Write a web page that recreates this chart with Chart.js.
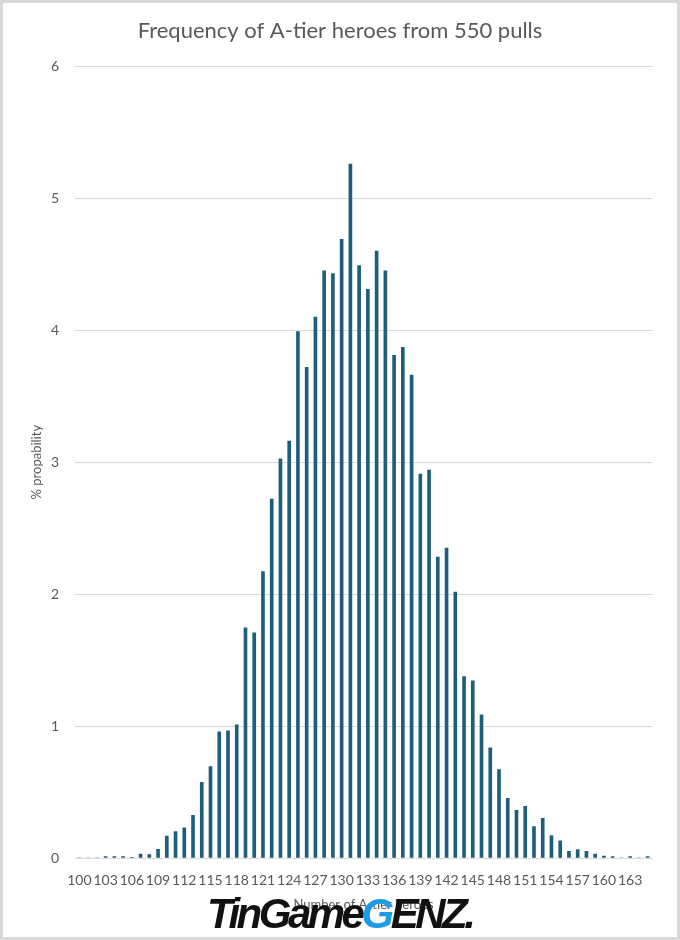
<!DOCTYPE html>
<html>
<head>
<meta charset="utf-8">
<script src="https://cdn.jsdelivr.net/npm/chart.js@4.4.1/dist/chart.umd.min.js"></script>
<style>
  html, body { margin: 0; padding: 0; background: #fff; }
  #wrap { position: relative; width: 680px; height: 940px; box-sizing: border-box; border: 3px solid #d9d9d9; }
  #wrap canvas { position: absolute; left: -3px; top: -3px; }
  #mark { position: absolute; left: 204px; top: 890px; font-family: "Liberation Sans", sans-serif; font-weight: bold; font-style: italic;
          font-size: 42px; letter-spacing: -3.5px; color: #111; line-height: 1; }
  #mark span { color: #1c9be6; }
</style>
</head>
<body>
<div id="wrap">
  <canvas id="chart" width="680" height="940"></canvas>
  <div id="mark">TinGame<span>G</span>ENZ.</div>
</div>
<script>
// number of A-tier heroes (100 .. 165)
const heroCounts = [];
for (let n = 100; n <= 165; n++) heroCounts.push(String(n));

// % probability for each count
const probability = [
    0, 0, 0, 0.01, 0.01, 0.01, 0.005, 0.03, 0.025, 0.066,      // 100-109
    0.167, 0.2, 0.228, 0.324, 0.574, 0.693, 0.956, 0.964, 1.009, 1.745, // 110-119
    1.707, 2.17, 2.72, 3.025, 3.16, 3.99, 3.72, 4.10, 4.45, 4.43,      // 120-129
    4.69, 5.26, 4.49, 4.31, 4.60, 4.45, 3.81, 3.87, 3.66, 2.91,        // 130-139
    2.94, 2.28, 2.35, 2.016, 1.376, 1.343, 1.085, 0.835, 0.67, 0.453,  // 140-149
    0.362, 0.392, 0.238, 0.30, 0.17, 0.13, 0.05, 0.063, 0.05, 0.03,    // 150-159
    0.015, 0.01, 0, 0.01, 0, 0.01                                      // 160-165
];

const yTicks = [0, 1, 2, 3, 4, 5, 6];

const grey = '#595959';

new Chart(document.getElementById('chart'), {
    type: 'bar',
    data: {
        labels: heroCounts,
        datasets: [{
            label: '% propability',
            data: probability,
            backgroundColor: '#1f5e7a',
            barThickness: 3,
        }]
    },
    options: {
        responsive: false,
        animation: false,
        layout: {
            padding: { left: 28, right: 28, top: 0, bottom: 22 }
        },
        scales: {
            x: {
                grid: { display: false },
                border: { color: '#d9d9d9', width: 1 },
                ticks: {
                    autoSkip: false,
                    maxRotation: 0,
                    minRotation: 0,
                    color: grey,
                    padding: 6,
                    font: { family: 'Lato', size: 14 },
                    callback: function(value, index) {
                        return index % 3 == 0 ? this.getLabelForValue(value) : '';
                    }
                },
                title: {
                    display: true,
                    text: 'Number of A-tier heroes',
                    color: grey,
                    font: { family: 'Lato', size: 13 },
                    padding: { top: 4, bottom: 5 }
                },
                afterFit: scale => { scale.height = 60; }
            },
            y: {
                min: 0,
                max: 6,
                afterBuildTicks: scale => { scale.ticks = yTicks.map(v => ({ value: v })); },
                grid: { color: '#d9d9d9', drawTicks: false },
                border: { display: false },
                ticks: {
                    color: grey,
                    padding: 16,
                    font: { family: 'Lato', size: 14 }
                },
                title: {
                    display: true,
                    text: '% propability',
                    color: grey,
                    font: { family: 'Lato', size: 13 },
                    padding: { top: 1, bottom: 0 }
                },
                afterFit: scale => { scale.width = 47; }
            }
        },
        plugins: {
            legend: { display: false },
            tooltip: { enabled: false },
            title: {
                display: true,
                text: 'Frequency of A-tier heroes from 550 pulls',
                color: grey,
                font: { family: 'Lato', size: 22, weight: 'normal' },
                padding: { top: 18, bottom: 22 }
            }
        }
    }
});
</script>
</body>
</html>
